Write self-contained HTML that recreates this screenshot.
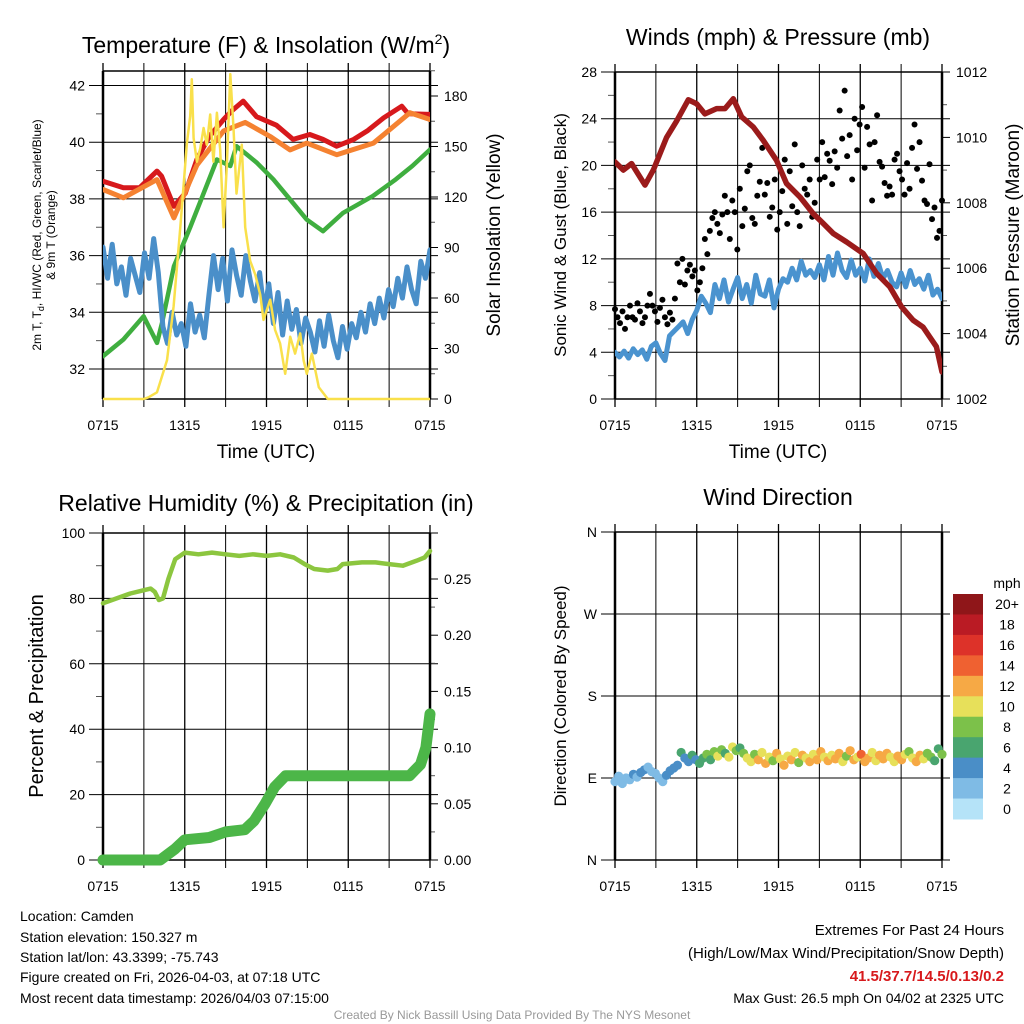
<!DOCTYPE html>
<html><head><meta charset="utf-8">
<style>
html,body{margin:0;padding:0;background:#fff;}
svg{display:block;font-family:"Liberation Sans",Arial,sans-serif;}
</style></head>
<body>
<svg id="chart" width="1024" height="1024" viewBox="0 0 1024 1024" xmlns="http://www.w3.org/2000/svg">
<rect x="0" y="0" width="1024" height="1024" fill="#fff"/>
<g id="texts" font-family="Liberation Sans, Arial, sans-serif" fill="#000">
<text x="266" y="53" font-size="23" text-anchor="middle">Temperature (F) &amp; Insolation (W/m<tspan font-size="14" dy="-9">2</tspan><tspan dy="9">)</tspan></text>
<text x="778" y="45" font-size="23" text-anchor="middle">Winds (mph) &amp; Pressure (mb)</text>
<text x="266" y="511" font-size="23" text-anchor="middle">Relative Humidity (%) &amp; Precipitation (in)</text>
<text x="778" y="505" font-size="23" text-anchor="middle">Wind Direction</text>
<text x="266" y="458" font-size="19" text-anchor="middle">Time (UTC)</text>
<text x="778" y="458" font-size="19" text-anchor="middle">Time (UTC)</text>
<text transform="translate(41,235) rotate(-90)" font-size="12" text-anchor="middle">2m T, T<tspan font-size="9" dy="3">d</tspan><tspan dy="-3">, HI/WC (Red, Green, Scarlet/Blue)</tspan></text>
<text transform="translate(55,235) rotate(-90)" font-size="12" text-anchor="middle">&amp; 9m T (Orange)</text>
<text transform="translate(500,235) rotate(-90)" font-size="19" text-anchor="middle">Solar Insolation (Yellow)</text>
<text transform="translate(566,235) rotate(-90)" font-size="17" text-anchor="middle">Sonic Wind &amp; Gust (Blue, Black)</text>
<text transform="translate(1019,235) rotate(-90)" font-size="19" text-anchor="middle">Station Pressure (Maroon)</text>
<text transform="translate(43,696) rotate(-90)" font-size="20" text-anchor="middle">Percent &amp; Precipitation</text>
<text transform="translate(566,696) rotate(-90)" font-size="17" text-anchor="middle">Direction (Colored By Speed)</text>
<g font-size="14">
<text x="20" y="921">Location: Camden</text>
<text x="20" y="942">Station elevation: 150.327 m</text>
<text x="20" y="962">Station lat/lon: 43.3399; -75.743</text>
<text x="20" y="982">Figure created on Fri, 2026-04-03, at 07:18 UTC</text>
<text x="20" y="1003">Most recent data timestamp: 2026/04/03 07:15:00</text>
</g>
<g font-size="15" text-anchor="end">
<text x="1004" y="935">Extremes For Past 24 Hours</text>
<text x="1004" y="958">(High/Low/Max Wind/Precipitation/Snow Depth)</text>
<text x="1004" y="981" fill="#d7191c" font-weight="bold">41.5/37.7/14.5/0.13/0.2</text>
<text x="1004" y="1003" font-size="14">Max Gust: 26.5 mph On 04/02 at 2325 UTC</text>
</g>
<text x="512" y="1019" font-size="12" fill="#999" text-anchor="middle">Created By Nick Bassill Using Data Provided By The NYS Mesonet</text>
</g>
</svg>
<script>
// ---------- data ----------
const xTickLabels = ["0715","1315","1915","0115","0715"];
const tempHours = [0,1.5,2.7,3.96,4.3,5.2,6.04,6.9,7.8,8.85,9.44,10.29,11.27,12.73,13.95,15.18,16.15,17.15,18.4,19.4,20.6,21.93,22.4,24];
const tempRed = [38.62,38.39,38.4,38.98,38.8,37.74,38.2,39.4,40.2,40.8,41.1,41.45,40.9,40.6,40.1,40.27,40.1,39.86,40.1,40.4,40.86,41.27,41.0,40.98];
const tempOrangeHours = [0,1.5,3.96,5.2,6.9,8.85,10.44,12.27,13.73,14.95,17.15,19.85,22.53,24];
const tempOrange = [38.33,38.04,38.68,37.33,39.2,40.4,40.7,40.2,39.73,39.97,39.56,39.97,41.04,40.8];
const greenHours = [0,1.5,2.98,3.96,4.33,5.2,6.4,7.14,8.36,9.34,9.8,10.55,11.3,12.5,13.73,14.95,16.15,17.6,19.8,21.5,22.7,24];
const greenVals = [32.45,33.04,33.86,32.92,33.62,35.62,37.0,37.9,39.39,39.16,39.86,39.57,39.27,38.69,37.98,37.27,36.86,37.5,38.1,38.69,39.16,39.74];
const blueTemp = [36.3,35.2,36.4,35,35.6,34.6,35.9,35.3,34.7,36.1,35.2,36.6,35.4,33.5,32.9,34,33.2,33.6,32.8,34.3,33.3,33.9,33.1,34.6,36,34.8,35.9,34.4,36.2,35.3,34.6,36,35.1,34.4,35.4,34,35,33.6,34.7,33.2,34.4,33.4,34.1,32.9,33.8,33.3,32.6,33.7,32.8,33.9,33,32.4,33.5,32.7,33.6,33.1,34,33.3,34.3,33.6,34.5,33.8,34.8,34.2,35.2,34.5,35.6,34.8,34.3,35.8,35.2,36.2];
const insHours = [0,2.98,3.34,3.96,4.7,5.18,5.67,6.16,6.4,6.52,6.65,6.89,7.14,7.38,7.62,7.87,8.1,8.36,8.6,8.85,9.1,9.34,9.58,9.8,10.19,10.44,10.8,11.17,11.54,11.78,12.27,12.63,13.0,13.37,13.74,14.1,14.47,14.72,14.96,15.33,15.84,16.5,24];
const insVals = [0,0,1,4,23,55,102,152,168,190,155,141,149,161,151,169,141,170,148,102,141,193,161,122,151,102,82,74,62,47,59,41,33,15,37,27,39,23,15,27,7,0,0];
const windSonic = [4,3.6,4.1,3.5,4.3,3.8,4.2,3.4,4.5,4.8,3.9,3.3,5.4,5.8,6.2,6.6,5.6,6.8,7.6,8.8,8.2,7.4,9.8,8.6,10.2,8.3,9.4,10.4,8.6,9.8,8.2,10.6,9,8.8,10.2,7.8,9.4,10.3,10,11.2,10.2,11.8,10.6,11,10.4,11.5,10.2,12.2,10.6,12.5,11,10.4,11.9,10.6,11.2,10.1,12,10.5,11.6,10.3,11,10,9.6,10.8,9.6,11,9.8,10.3,9.4,10.6,8.9,9.4,8.6];
const windGust = [7.7,7,6.5,7.5,6,7,8,7,6.8,8.2,7.5,6.5,7,8,9,8,7.5,6.6,7.8,8.5,7,6.4,7.4,6.8,8.6,11.6,10,12,9.8,11,11.5,10.5,11,9.3,10,11.2,13.7,12.4,14.4,15.5,16,15,14.2,15.8,17.4,16,13.7,17,16,12.8,18,14.8,16.3,19.5,20,15.5,15,17.4,18.6,21.5,17.5,18.5,15.6,16.4,18.8,14.5,16,17.8,20.5,15,19.5,16.5,21.8,16,14.8,20,18,17.5,18.8,15.6,16.8,20.5,18.8,22,19,21,20.4,18.4,21.2,19.8,24.7,22.3,26.4,20.8,22.6,18.8,24,21.3,23.5,25,19.8,23.3,21.8,17,22,24.3,20.3,19.9,18.5,17.4,18.2,17.5,20.5,21,19.5,18.8,17.5,20.2,18,21.5,23.5,19.7,22,18.7,17,16.7,20.1,15.4,16.4,13.8,14.4,17];
const presHours = [0,0.61,1.22,2.2,2.81,3.79,4.52,5.38,5.99,6.6,7.46,8.07,8.68,9.29,10.14,10.88,11.85,12.59,13.57,14.55,15.28,16.02,17.0,18.22,19.2,20.17,21.03,21.88,22.61,23.1,23.59,24];
const presVals = [1009.25,1009.0,1009.2,1008.54,1009.0,1010.0,1010.5,1011.15,1011.03,1010.72,1010.88,1010.88,1011.18,1010.63,1010.32,1009.91,1009.3,1008.59,1008.18,1007.67,1007.37,1007.06,1006.8,1006.45,1005.84,1005.43,1004.82,1004.41,1004.2,1003.9,1003.6,1002.83];
const rhHours = [0,1,2,3,3.5,3.8,4.1,4.4,4.8,5.3,6,7,8,9,10,11,12,13,14,14.8,15.5,16.5,17.2,17.6,19,20,21,22,23,23.6,24];
const rhVals = [78.5,80,81.5,82.5,83,82,79.5,80,86,92,94,93.5,94,93.5,93,93.5,93,93.5,92.5,90.5,89,88.5,89,90.5,91,91,90.5,90,91.5,92.5,94.5];
const prHours = [0,4.2,5.3,6,7.8,9,10.4,11.1,11.9,12.6,13.4,22.5,22.9,23.3,23.7,24];
const prVals = [0,0,0.01,0.018,0.02,0.025,0.027,0.035,0.05,0.065,0.075,0.075,0.08,0.085,0.1,0.13];
const dirVals = [86,92,84,90,88,94,91,96,99,102,97,95,90,86,93,98,101,104,118,112,108,115,110,106,112,116,110,119,114,121,117,113,124,120,123,117,112,108,116,110,118,106,113,109,117,111,104,114,110,118,107,115,112,108,116,110,119,113,109,115,111,117,108,114,120,110,113,116,108,112,118,109,115,111,117,113,108,114,110,116,119,112,108,115,111,117,113,109,122,116];
const dirSpeeds = [2,3,2.5,3.5,3,4,3.5,4,4.5,3.8,3,3.5,2.5,3.5,4,4.5,5,4,6,5.5,4,6.5,5.5,7,7.5,8,6.5,9,10,8.5,7,11,10,9,7.5,8,10,11.5,9.5,12,10.5,12,11,9.5,12.5,10,12,11,12.5,10.5,9,12.5,11,13,10,12,13.5,11.5,12.5,10.5,12.5,12.5,11,9.5,12,12.5,11.5,14,12.5,12.5,10.5,11,12.5,12,13,11.5,10,12.5,12.5,11,9,10.5,12,12.5,11,8.5,9,7.5,6.5,8];
const speedBinLabels = ["0","2","4","6","8","10","12","14","16","18","20+"];
const speedBinColors = ["#b5e3f8","#7fbbe5","#4a8ec7","#49a56f","#7cc14a","#e7e05a","#f6a945","#ef6131","#dd3229","#ba1b24","#8f1619"];

// ---------- helpers ----------
const NS = "http://www.w3.org/2000/svg";
const svg = document.getElementById("chart");
function mk(tag, attrs, parent) {
  const e = document.createElementNS(NS, tag);
  for (const k in attrs) if (attrs[k] !== null) e.setAttribute(k, attrs[k]);
  (parent || svg).appendChild(e);
  return e;
}
function lin(d0, d1, r0, r1) { return v => r0 + (v - d0) * (r1 - r0) / (d1 - d0); }

const P = {
  t: {x0:103,x1:430,y0:71,y1:399},
  w: {x0:615,x1:942,y0:72,y1:399},
  r: {x0:103,x1:430,y0:533,y1:860},
  d: {x0:615,x1:942,y0:532,y1:860}
};
const xs = {};
for (const k in P) xs[k] = lin(0, 24, P[k].x0, P[k].x1);
const yTemp = lin(32, 42, 369, 85.5);
const yIns = lin(0, 180, 399, 96);
const yWind = lin(0, 28, 399, 72);
const yPres = lin(1002, 1012, 399, 72);
const yRh = lin(0, 100, 860, 533);
const yPr = lin(0, 0.25, 860, 579);
const yDir = lin(0, 360, 860, 532);

function frame(p, name) {
  const g = mk("g", {});
  
  
  for (let h = 0; h <= 24; h += 3) {
    const x = xs[name](h);
    const l = mk("line", {x1:x, x2:x, y1:p.y0-8, y2:p.y1+8, stroke:"#000", "stroke-width": (h%6===0)?1.3:1}, g);
    
  }
  for (let i = 0; i < xTickLabels.length; i++) {
    const t = mk("text", {x: xs[name](i*6), y: p.y1 + 31, "font-size": 14, "text-anchor": "middle"}, g);
    t.textContent = xTickLabels[i];
    
  }
  return g;
}
function leftAxis(p, g, vals, yf, labels, minor) {
  vals.forEach((v, i) => {
    const y = yf(v);
    mk("line", {x1:p.x0-14, x2:p.x1+8, y1:y, y2:y, stroke:"#000", "stroke-width":1}, g);
    const t = mk("text", {x:p.x0-18, y:y+5, "font-size":14, "text-anchor":"end"}, g);
    t.textContent = labels[i];
    
  });
  minor.forEach(v => { const y = yf(v); mk("line", {x1:p.x0-7, x2:p.x0, y1:y, y2:y, stroke:"#555"}, g); });
}
function rightAxis(p, g, vals, yf, labels, minor) {
  vals.forEach((v, i) => {
    const y = yf(v);
    mk("line", {x1:p.x1, x2:p.x1+8, y1:y, y2:y, stroke:"#000"}, g);
    const t = mk("text", {x:p.x1+14, y:y+5, "font-size":14, "text-anchor":"start"}, g);
    t.textContent = labels[i];
    
  });
  minor.forEach(v => { const y = yf(v); mk("line", {x1:p.x1, x2:p.x1+5, y1:y, y2:y, stroke:"#555"}, g); });
}
function border(p, g) {
  mk("line", {x1:p.x0, x2:p.x0, y1:p.y0, y2:p.y1, stroke:"#000", "stroke-width":2.5}, g);
  mk("line", {x1:p.x1, x2:p.x1, y1:p.y0, y2:p.y1, stroke:"#000", "stroke-width":2.5}, g);
  mk("line", {x1:p.x0, x2:p.x1, y1:p.y0, y2:p.y0, stroke:"#000", "stroke-width":1.5}, g);
  mk("line", {x1:p.x0, x2:p.x1, y1:p.y1, y2:p.y1, stroke:"#000", "stroke-width":1.5}, g);
}
function path(hours, vals, xf, yf, color, w, name, clip) {
  const d = vals.map((v, i) => (i ? "L" : "M") + xf(hours[i]).toFixed(1) + "," + yf(v).toFixed(1)).join("");
  const e = mk("path", {d:d, fill:"none", stroke:color, "stroke-width":w, "stroke-linejoin":"round", "stroke-linecap":"round", "clip-path": clip});
  
  
  return e;
}
function idxHours(arr) { return arr.map((_, i) => i * 24 / (arr.length - 1)); }
function range(a, b, s) { const r = []; for (let v = a; v <= b + 1e-9; v += s) r.push(+v.toFixed(4)); return r; }

const defs = mk("defs", {});
for (const k in P) {
  const c = mk("clipPath", {id: "clip-" + k}, defs);
  mk("rect", {x:P[k].x0, y:P[k].y0 - 2, width:P[k].x1 - P[k].x0, height:P[k].y1 - P[k].y0 + 4}, c);
}

// ---------- Panel 1 ----------
{
  const p = P.t, g = frame(p, "t");
  const tv = range(32, 42, 2);
  leftAxis(p, g, tv, yTemp, tv.map(String), range(33, 41, 2));
  const iv = range(0, 180, 30);
  rightAxis(p, g, iv, yIns, iv.map(String), range(15, 195, 30));
  border(p, g);
  path(tempHours, tempRed, xs.t, yTemp, "#d7191c", 5, "temp-red-line", "url(#clip-t)");
  path(tempOrangeHours, tempOrange, xs.t, yTemp, "#f58231", 5, "temp-orange-line", "url(#clip-t)");
  path(greenHours, greenVals, xs.t, yTemp, "#3fae3f", 4.5, "dewpoint-green-line", "url(#clip-t)");
  path(idxHours(blueTemp), blueTemp, xs.t, yTemp, "#4a8fc9", 5, "windchill-blue-line", "url(#clip-t)");
  path(insHours, insVals, xs.t, yIns, "#f9e04b", 2.5, "insolation-yellow-line", "url(#clip-t)");
}

// ---------- Panel 2 ----------
{
  const p = P.w, g = frame(p, "w");
  const wv = range(0, 28, 4);
  leftAxis(p, g, wv, yWind, wv.map(String), range(2, 26, 4));
  const pv = range(1002, 1012, 2);
  rightAxis(p, g, pv, yPres, pv.map(String), range(1003, 1011, 1).filter(v => v % 2));
  border(p, g);
  path(idxHours(windSonic), windSonic, xs.w, yWind, "#4a93cf", 5, "sonic-wind-line", "url(#clip-w)");
  const gh = idxHours(windGust);
  windGust.forEach((v, i) => {
    const c = mk("circle", {cx: xs.w(gh[i]), cy: yWind(v), r: 3, fill: "#000"});
    
    
  });
  path(presHours, presVals, xs.w, yPres, "#9b1b1b", 5.5, "pressure-maroon-line", "url(#clip-w)");
}

// ---------- Panel 3 ----------
{
  const p = P.r, g = frame(p, "r");
  const rv = range(0, 100, 20);
  leftAxis(p, g, rv, yRh, rv.map(String), range(10, 90, 20));
  const prv = [0, 0.05, 0.1, 0.15, 0.2, 0.25];
  rightAxis(p, g, prv, yPr, prv.map(v => v.toFixed(2)), [0.025,0.075,0.125,0.175,0.225]);
  border(p, g);
  path(rhHours, rhVals, xs.r, yRh, "#8cc63f", 4.5, "rh-line", null);
  path(prHours, prVals, xs.r, yPr, "#4cb648", 11, "precip-line", null);
}

// ---------- Panel 4 ----------
{
  const p = P.d, g = frame(p, "d");
  const dv = [0, 90, 180, 270, 360], dl = ["N", "E", "S", "W", "N"];
  leftAxis(p, g, dv, yDir, dl, []);
  border(p, g);
  const dh = idxHours(dirVals);
  dirVals.forEach((v, i) => {
    const bin = Math.min(10, Math.floor(dirSpeeds[i] / 2));
    const c = mk("circle", {cx: xs.d(dh[i]), cy: yDir(v), r: 4.6, fill: speedBinColors[bin]});
    
    
  });
  const lg = mk("g", {});
  
  
  const t0 = mk("text", {x: 1007, y: 588, "font-size": 14, "text-anchor": "middle"}, lg);
  t0.textContent = "mph";
  const bh = (819 - 594) / speedBinLabels.length;
  speedBinLabels.forEach((lab, i) => {
    const j = speedBinLabels.length - 1 - i;
    const y = 594 + i * bh;
    const r = mk("rect", {x: 953, y: y, width: 30, height: bh + 0.5, fill: speedBinColors[j]}, lg);
    
    const t = mk("text", {x: 1007, y: y + bh/2 + 5, "font-size": 14, "text-anchor": "middle"}, lg);
    t.textContent = speedBinLabels[j];
    
  });
}
svg.appendChild(document.getElementById("texts"));
</script>
</body></html>
